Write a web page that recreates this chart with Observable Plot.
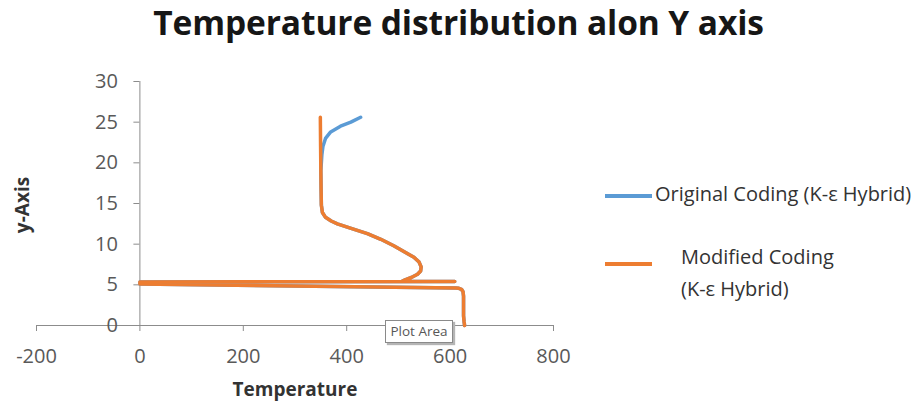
<!DOCTYPE html>
<html>
<head>
<meta charset="utf-8">
<script src="https://cdn.jsdelivr.net/npm/d3@7"></script>
<script src="https://cdn.jsdelivr.net/npm/@observablehq/plot@0.6"></script>
<style>
  body { margin: 0; background: #fff; font-family: "Open Sans", sans-serif; }
  #chart { position: relative; width: 917px; height: 401px; overflow: hidden; }
  #chart svg { position: absolute; left: 0; top: 0; }
  .txt { position: absolute; white-space: nowrap; line-height: 1; }
  .title { left: 0; width: 917px; top: 6px; text-align: center; font-size: 33.5px; font-weight: 700; color: #161616; letter-spacing: -0.1px; }
  .xlabel { left: 295px; top: 380px; transform: translateX(-50%); font-size: 19px; font-weight: 700; color: #333; }
  .ylabel { left: 22px; top: 205px; transform: translate(-50%, -50%) rotate(-90deg); font-size: 19px; font-weight: 700; color: #333; }
  .legend-line { position: absolute; left: 605px; width: 47px; height: 3.5px; }
  .legend-text { font-size: 20px; color: #333; }
  .tip { position: absolute; left: 385px; top: 320px; width: 66px; height: 21px; background: #fff;
         border: 1px solid #8a8a8a; box-shadow: 2px 2px 1px #b5b5b5; font-size: 13.5px; color: #575757;
         line-height: 21px; text-align: center; }
</style>
</head>
<body>
<div id="chart">
  <div class="txt title">Temperature distribution alon Y axis</div>
  <div class="txt xlabel">Temperature</div>
  <div class="txt ylabel">y-Axis</div>
</div>
<script>
// Axis ticks
const xTicks = [-200, 0, 200, 400, 600, 800];
const yTicks = [0, 5, 10, 15, 20, 25, 30];

// Modified Coding (K-ε Hybrid): temperature along the profile, top to bottom
const modifiedTemp = [349, 349.5, 350, 350.5, 351, 353, 359, 370, 382, 410, 440, 466, 491, 513, 530, 540, 544, 543, 537, 525, 514, 508, 609, 0, 0, 611, 617, 622, 625, 626, 626, 626, 627, 628];
const modifiedY    = [25.6, 22, 19, 16.6, 14.8, 13.9, 13.3, 12.85, 12.5, 11.9, 11.3, 10.6, 9.8, 9.0, 8.4, 7.8, 7.2, 6.7, 6.3, 5.9, 5.65, 5.45, 5.42, 5.35, 5.1, 4.6, 4.57, 4.45, 4.15, 3.6, 2.5, 1.2, 0.5, 0];

// Original Coding (K-ε Hybrid): upper branch; below y = 21 it follows the modified profile
const originalTopTemp = [427, 408, 388, 369, 359, 354, 352];
const originalTopY    = [25.6, 25.0, 24.5, 23.8, 23.0, 22.0, 21.0];

const seriesNames  = ["Original Coding (K-ε Hybrid)", ["Modified Coding", "(K-ε Hybrid)"]];
const seriesColors = ["#5B9BD5", "#ED7D31"];

const axisColor = "#8C8C8C";
const labelColor = "#595959";
const plainNumber = d => String(d); // hyphen-minus, as in spreadsheet axes

const modified = modifiedTemp.map((t, i) => ({t, y: modifiedY[i]}));
const original = originalTopTemp.map((t, i) => ({t, y: originalTopY[i]}))
  .concat(modified.filter(d => d.y < 21));

const plot = Plot.plot({
  width: 917,
  height: 401,
  marginLeft: 36,
  marginRight: 364,
  marginTop: 81,
  marginBottom: 76,
  x: {domain: [-200, 800]},
  y: {domain: [0, 30]},
  style: {fontFamily: "'Open Sans', sans-serif", background: "transparent", overflow: "visible"},
  marks: [
    Plot.ruleY([0], {stroke: axisColor}),
    Plot.ruleX([0], {stroke: axisColor}),
    Plot.axisX({ticks: xTicks, tickFormat: plainNumber, tickSize: 6, tickPadding: 17, fontSize: 20, stroke: axisColor, fill: labelColor, label: null}),
    Plot.axisY({x: 0, ticks: yTicks, tickFormat: plainNumber, tickSize: 6, tickPadding: 16, fontSize: 20, stroke: axisColor, fill: labelColor, label: null}),
    Plot.line(original, {x: "t", y: "y", stroke: seriesColors[0], strokeWidth: 3.5}),
    Plot.line(modified, {x: "t", y: "y", stroke: seriesColors[1], strokeWidth: 3.5})
  ]
});

const chart = document.getElementById("chart");
chart.insertBefore(plot, chart.firstChild);

// Legend
const legendRows = [
  {line: 196, lines: [{left: 655, top: 184}]},
  {line: 264, lines: [{left: 681, top: 247}, {left: 681, top: 279}]}
];
legendRows.forEach((row, i) => {
  const sw = document.createElement("div");
  sw.className = "legend-line";
  sw.style.top = (row.line - 1.75) + "px";
  sw.style.background = seriesColors[i];
  chart.appendChild(sw);
  const parts = Array.isArray(seriesNames[i]) ? seriesNames[i] : [seriesNames[i]];
  parts.forEach((p, j) => {
    const t = document.createElement("div");
    t.className = "txt legend-text";
    t.style.left = row.lines[j].left + "px";
    t.style.top = row.lines[j].top + "px";
    t.textContent = p;
    chart.appendChild(t);
  });
});

// Hover tip over the plot area
const tip = document.createElement("div");
tip.className = "tip";
tip.textContent = "Plot Area";
chart.appendChild(tip);
</script>
</body>
</html>
